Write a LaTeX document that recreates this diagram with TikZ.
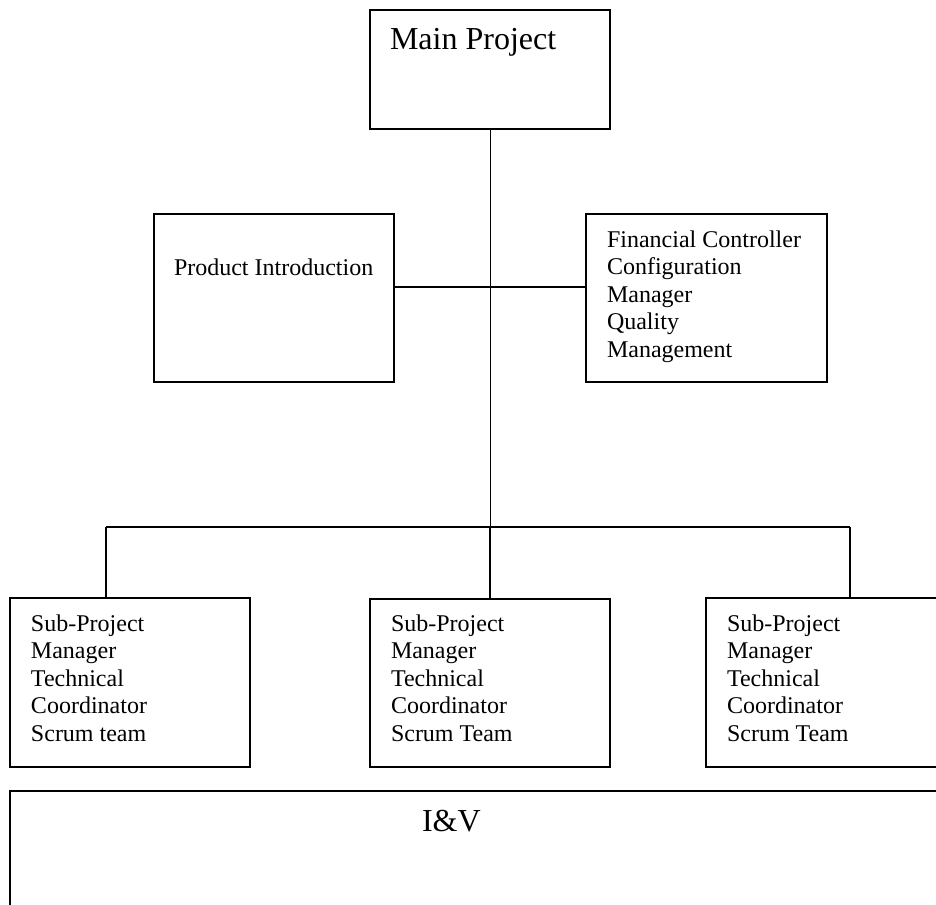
\documentclass[tikz,border=0pt]{standalone}
\usepackage{fontspec}
\setmainfont{Liberation Serif}
\usetikzlibrary{calc}

\tikzset{
  box/.style={draw=black, line width=0.75pt, rectangle, inner sep=0pt, outer sep=0pt, anchor=north west},
  txt/.style={inner sep=0pt, outer sep=0pt, anchor=base west, align=left, font=\fontsize{12}{13.8}\selectfont},
  bigtxt/.style={inner sep=0pt, outer sep=0pt, anchor=base west, font=\fontsize{16}{18}\selectfont},
  thinlink/.style={draw=black, line width=0.5pt},
  thicklink/.style={draw=black, line width=1.25pt}
}

\begin{document}
\begin{tikzpicture}[x=0.5pt, y=-0.5pt]
  \useasboundingbox (0,0) rectangle (936,904);
  \clip (0,0) rectangle (936,904);
  \fill[white] (0,0) rectangle (936,904);

  % boxes
  \node[box, minimum width=120pt, minimum height=59.5pt] (main) at (370,10) {};
  \node[box, minimum width=120pt, minimum height=84pt] (prod) at (154,214) {};
  \node[box, minimum width=120.5pt, minimum height=84pt] (fin) at (586,214) {};
  \node[box, minimum width=120pt, minimum height=84.5pt] (sub1) at (10,598) {};
  \node[box, minimum width=120pt, minimum height=84pt] (sub2) at (370,599) {};
  \node[box, minimum width=120pt, minimum height=84.5pt] (sub3) at (706,598) {};
  \node[box, minimum width=470pt, minimum height=80pt] (iv) at (10,791) {};

  % texts (multi-line blocks are anchored at the baseline of their last line)
  \node[bigtxt] (maintxt) at (390,50) {Main Project};
  \node[txt] (prodtxt) at (174,275) {Product Introduction};
  \node[txt] (fintxt) at (607,357.4) {Financial Controller\\Configuration\\Manager\\Quality\\Management};
  \node[txt] (sub1txt) at (31,741.4) {Sub-Project\\Manager\\Technical\\Coordinator\\Scrum team};
  \node[txt] (sub2txt) at (391,741.4) {Sub-Project\\Manager\\Technical\\Coordinator\\Scrum Team};
  \node[txt] (sub3txt) at (727,741.4) {Sub-Project\\Manager\\Technical\\Coordinator\\Scrum Team};
  \node[bigtxt] (ivtxt) at (422,831) {I\&V};

  % junction points
  \coordinate (hub) at (490,287);
  \coordinate (bus1) at (106,527);
  \coordinate (bus2) at (490,527);
  \coordinate (bus3) at (850,527);

  % connectors
  \draw[thinlink] (main.south) -- (bus2);
  \draw[thicklink] (prod.east |- hub) -- (fin.west |- hub);
  \draw[thicklink] (bus1) -- (bus3);
  \draw[thicklink] (bus1) -- (bus1 |- sub1.north);
  \draw[thicklink] (bus2) -- (sub2.north);
  \draw[thicklink] (bus3) -- (bus3 |- sub3.north);
\end{tikzpicture}
\end{document}
